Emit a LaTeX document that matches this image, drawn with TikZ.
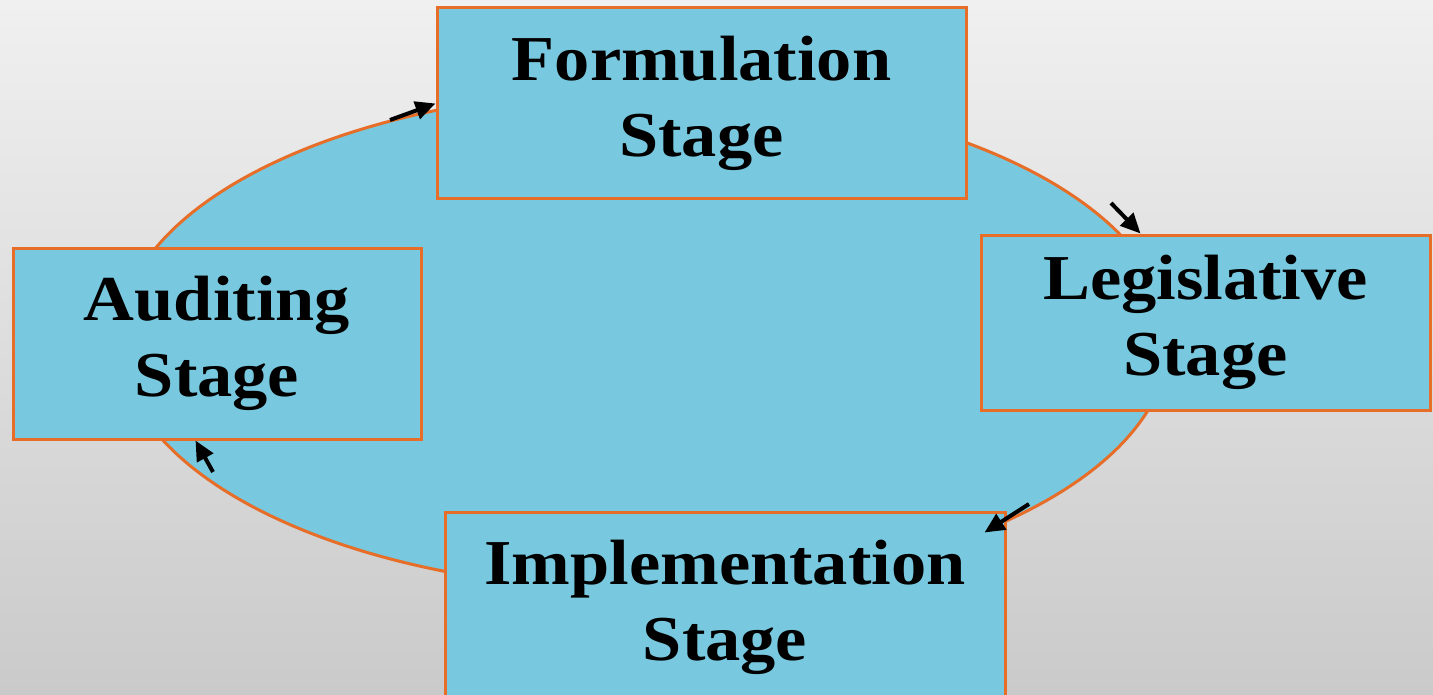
\documentclass[tikz,border=0pt]{standalone}
\usepackage{fontspec}
\setmainfont{Liberation Serif}[FakeStretch=1.1]
\usetikzlibrary{arrows.meta, shapes.geometric}

\definecolor{bgtop}{RGB}{240,240,240}
\definecolor{bgbot}{RGB}{202,202,202}
\definecolor{stagefill}{RGB}{120,201,223}
\definecolor{stageline}{RGB}{230,110,40}

\begin{document}
\begin{tikzpicture}[x=0.5pt, y=-0.5pt,
  stagebox/.style={draw=stageline, line width=1.5pt, fill=stagefill, rectangle,
    align=center, inner sep=0pt, font=\fontsize{32}{38}\selectfont\bfseries},
  flow/.style={line width=2pt, -{Triangle[length=10pt, width=9pt]}}]
\useasboundingbox (0,0) rectangle (1433,695);
\clip (0,0) rectangle (1433,695);
\shade[top color=bgtop, bottom color=bgbot] (0,0) rectangle (1433,695);

% the cycle behind the stages
\node[ellipse, draw=stageline, line width=1.5pt, fill=stagefill, inner sep=0pt,
  minimum width=525pt, minimum height=250pt] (cycle) at (644,340) {};

\node[stagebox, minimum width=264.5pt, minimum height=95.5pt] (form) at (701.5,103.5) {Formulation\\Stage};
\node[stagebox, minimum width=224.5pt, minimum height=87.5pt] (leg) at (1205.5,322.5) {Legislative\\Stage};
\node[stagebox, minimum width=280pt, minimum height=95.5pt] (impl) at (725,607.5) {Implementation\\Stage};
\node[stagebox, minimum width=204pt, minimum height=95.5pt] (aud) at (217,343.5) {Auditing\\Stage};

\coordinate (to-form) at (390,120);
\coordinate (to-leg) at (1111,203);
\coordinate (to-impl) at (1029,504);
\coordinate (to-aud) at (213,472);

\draw[flow] (to-form) -- (form.west);
\draw[flow] (to-leg) -- ([xshift=80.5pt]leg.north west);
\draw[flow] (to-impl) -- ([xshift=-11pt,yshift=-11pt]impl.north east);
\draw[flow] (to-aud) -- ([xshift=92pt]aud.south west);
\end{tikzpicture}
\end{document}
